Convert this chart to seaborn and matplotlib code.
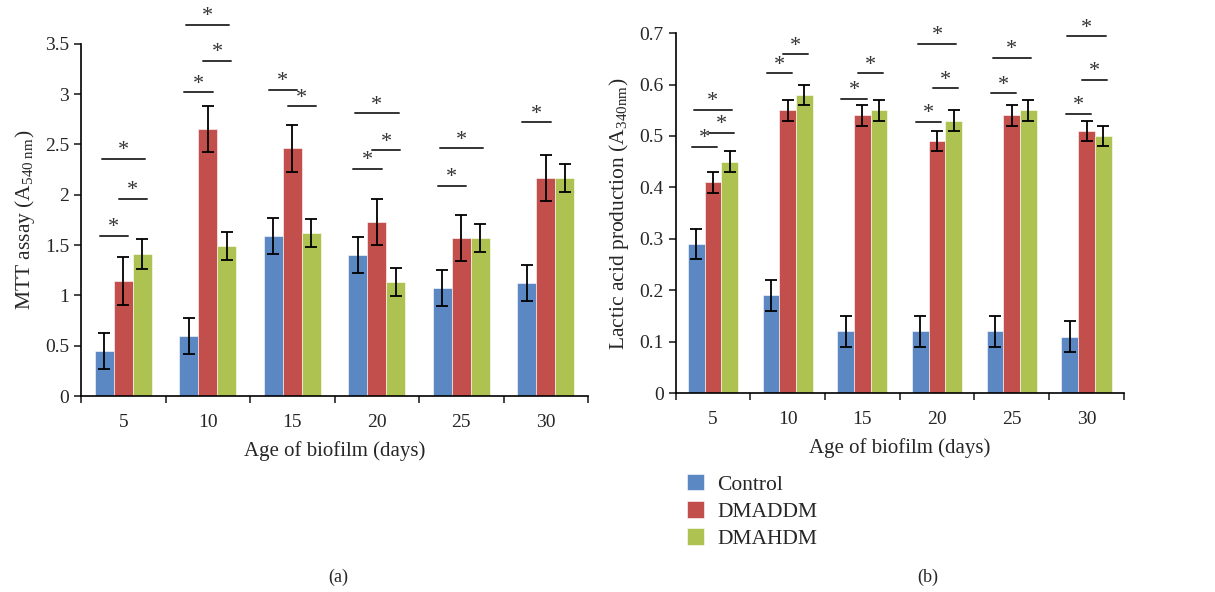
import pandas as pd
import seaborn as sns
import matplotlib.pyplot as plt

# datos
days = ["5", "10", "15", "20", "25", "30"]
groups = ["Control", "DMADDM", "DMAHDM"]
colors = ["#5B87C3", "#C34F4C", "#AEC251"]

mtt_control = [0.45, 0.60, 1.59, 1.40, 1.07, 1.12]
mtt_dmaddm = [1.14, 2.65, 2.46, 1.73, 1.57, 2.17]
mtt_dmahdm = [1.41, 1.49, 1.62, 1.13, 1.57, 2.17]
mtt_err_control = [0.18, 0.18, 0.18, 0.18, 0.18, 0.18]
mtt_err_dmaddm = [0.24, 0.23, 0.23, 0.23, 0.23, 0.23]
mtt_err_dmahdm = [0.15, 0.14, 0.14, 0.14, 0.14, 0.14]

lac_control = [0.29, 0.19, 0.12, 0.12, 0.12, 0.11]
lac_dmaddm = [0.41, 0.55, 0.54, 0.49, 0.54, 0.51]
lac_dmahdm = [0.45, 0.58, 0.55, 0.53, 0.55, 0.50]
lac_err_control = [0.03, 0.03, 0.03, 0.03, 0.03, 0.03]
lac_err_dmaddm = [0.02, 0.02, 0.02, 0.02, 0.02, 0.02]
lac_err_dmahdm = [0.02, 0.02, 0.02, 0.02, 0.02, 0.02]

# significancia: (grupo de dias, barra i, barra j, altura)
mtt_sig = [(0, 0, 1, 1.59), (0, 1, 2, 1.96), (0, 0, 2, 2.36),
           (1, 0, 1, 3.02), (1, 1, 2, 3.33), (1, 0, 2, 3.69),
           (2, 0, 1, 3.04), (2, 1, 2, 2.88),
           (3, 0, 1, 2.26), (3, 1, 2, 2.44), (3, 0, 2, 2.81),
           (4, 0, 1, 2.09), (4, 0, 2, 2.46),
           (5, 0, 1, 2.72)]
lac_sig = [(0, 0, 1, 0.479), (0, 1, 2, 0.506), (0, 0, 2, 0.551),
           (1, 0, 1, 0.622), (1, 1, 2, 0.659),
           (2, 0, 1, 0.572), (2, 1, 2, 0.622),
           (3, 0, 1, 0.528), (3, 1, 2, 0.593), (3, 0, 2, 0.679),
           (4, 0, 1, 0.583), (4, 0, 2, 0.652),
           (5, 0, 1, 0.543), (5, 1, 2, 0.609), (5, 0, 2, 0.694)]

sns.set_style("ticks")
plt.rcParams['font.family'] = ['Liberation Serif', 'DejaVu Serif']
plt.rcParams['mathtext.fontset'] = 'stix'


def long_df(c, d, h):
    rows = []
    for vals, g in zip([c, d, h], groups):
        for day, v in zip(days, vals):
            rows.append({"day": day, "group": g, "value": v})
    return pd.DataFrame(rows)


def panel(ax, df, errs, sig, yticks, ylabel):
    sns.barplot(data=df, x="day", y="value", hue="group", order=days,
                hue_order=groups, palette=colors, width=0.67, errorbar=None,
                edgecolor="white", linewidth=0.4, saturation=1, legend=False, ax=ax)
    bar_conts = list(ax.containers)
    bars = []
    for cont, err in zip(bar_conts, errs):
        xs = [p.get_x() + p.get_width() / 2 for p in cont.patches]
        ys = [p.get_height() for p in cont.patches]
        ax.errorbar(xs, ys, yerr=err, fmt="none", ecolor="black",
                    elinewidth=1.3, capsize=4, capthick=1.3)
        bars.append(xs)
    w = bar_conts[0].patches[0].get_width()
    for g, i, j, y in sig:
        mid = (bars[i][g] + bars[j][g]) / 2
        half = w * (0.7 + 0.8 * (j - i)) / 2
        ax.plot([mid - half, mid + half], [y, y], color="#333333", lw=1.4, clip_on=False)
        ax.annotate("*", (mid, y), xytext=(0, -1), textcoords="offset points",
                    ha="center", va="bottom", fontsize=16, color="#333333",
                    annotation_clip=False)
    ax.set_xlim(-0.5, len(days) - 0.5)
    ax.set_ylim(0, yticks[-1])
    ax.set_yticks(yticks)
    ax.set_yticklabels([f"{t:g}" for t in yticks])
    ax.set_xticks([k - 0.5 for k in range(len(days) + 1)])
    ax.set_xticklabels([])
    ax.set_xticks(range(len(days)), minor=True)
    ax.set_xticklabels(days, minor=True)
    ax.tick_params(axis="x", which="major", length=5, width=1.2, direction="out")
    ax.tick_params(axis="x", which="minor", length=0, pad=13, labelsize=14)
    ax.tick_params(axis="y", length=5, width=1.2, direction="out", labelsize=14)
    for s in ["left", "bottom"]:
        ax.spines[s].set_linewidth(1.2)
        ax.spines[s].set_color("black")
    sns.despine(ax=ax)
    ax.set_xlabel("Age of biofilm (days)", fontsize=15, labelpad=7)
    ax.set_ylabel(ylabel, fontsize=15.5, labelpad=6)
    return bar_conts


fig = plt.figure(figsize=(12.15, 5.92), dpi=100)
ax1 = fig.add_axes([0.0667, 0.331, 0.4173, 0.595])
ax2 = fig.add_axes([0.556, 0.336, 0.369, 0.608])

panel(ax1, long_df(mtt_control, mtt_dmaddm, mtt_dmahdm),
      [mtt_err_control, mtt_err_dmaddm, mtt_err_dmahdm], mtt_sig,
      [0, 0.5, 1, 1.5, 2, 2.5, 3, 3.5], r"MTT assay (A$_{\mathregular{540\ nm}}$)")
conts = panel(ax2, long_df(lac_control, lac_dmaddm, lac_dmahdm),
              [lac_err_control, lac_err_dmaddm, lac_err_dmahdm], lac_sig,
              [0, 0.1, 0.2, 0.3, 0.4, 0.5, 0.6, 0.7],
              r"Lactic acid production (A$_{\mathregular{340nm}}$)")

handles = [c.patches[0] for c in conts]
fig.legend(handles, groups, loc="upper left", bbox_to_anchor=(687 / 1215, 1 - 474 / 592),
           frameon=False, fontsize=15.5, handlelength=0.8, handleheight=0.8,
           handletextpad=0.6, labelspacing=0.3, borderpad=0, borderaxespad=0)

fig.text(338 / 1215, 1 - 577 / 592, "(a)", ha="center", va="center", fontsize=13)
fig.text(928 / 1215, 1 - 577 / 592, "(b)", ha="center", va="center", fontsize=13)

plt.savefig("out.png", dpi=100)
